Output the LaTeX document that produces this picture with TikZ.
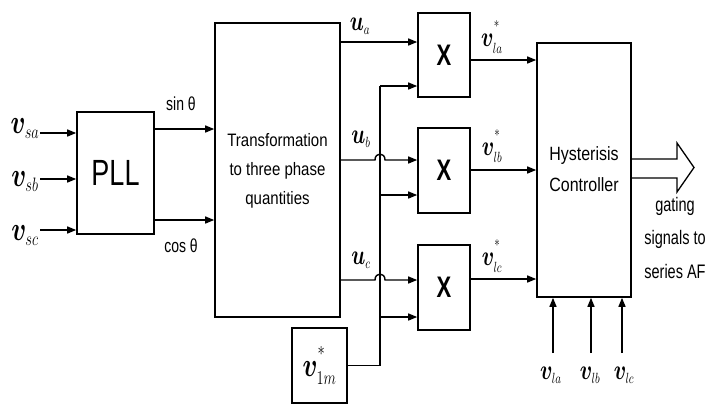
\documentclass[tikz,border=0pt]{standalone}
\usepackage{bm}
\usepackage{fontspec}
\setsansfont{Liberation Sans}
\usepackage{graphicx}
\usetikzlibrary{arrows.meta}
\newcommand{\st}[1]{\scalebox{1}[1.35]{#1}}
\newcommand{\stt}[1]{\scalebox{1}[1.2]{#1}}
\newcommand{\rstar}[1]{\raise#1\hbox{$\scriptscriptstyle *$}}
\begin{document}
\begin{tikzpicture}[x=1pt,y=-1pt,
  box/.style={draw,line width=1.6pt,inner sep=0pt,font=\sffamily},
  wire/.style={line width=1.4pt},
  arr/.style={wire,-{Triangle[length=9pt,width=7pt]}},
  bigv/.style={inner sep=0pt,font=\fontsize{27}{27}\selectfont},
  vl/.style={inner sep=0pt,font=\fontsize{22}{22}\selectfont},
  sl/.style={inner sep=0pt,font=\sffamily\fontsize{14}{16}\selectfont}]
\useasboundingbox (0,0) rectangle (710,405);
% boxes
\node[box,minimum width=77pt,minimum height=122pt] (pll) at (115.5,173) {\fontsize{27}{27}\selectfont\st{PLL}};
\node[box,minimum width=125pt,minimum height=294pt,align=center] (tr) at (277.5,170)
  {\fontsize{15}{24}\selectfont\stt{\begin{tabular}{@{}c@{}}Transformation\\to three phase\\quantities\end{tabular}}};
\node[box,minimum width=52pt,minimum height=84pt] (x1) at (444,55) {\fontsize{22}{22}\selectfont\bfseries\st{X}};
\node[box,minimum width=52pt,minimum height=85pt] (x2) at (444,170.5) {\fontsize{22}{22}\selectfont\bfseries\st{X}};
\node[box,minimum width=52pt,minimum height=85pt] (x3) at (444,287.5) {\fontsize{22}{22}\selectfont\bfseries\st{X}};
\node[box,minimum width=55pt,minimum height=75pt] (vm) at (319.5,365.5) {\fontsize{30}{30}\selectfont\st{$\bm{v}_{\scriptscriptstyle 1m}^{\rstar{6pt}}$}};
\node[box,minimum width=94pt,minimum height=254pt] (hc) at (584,170)
  {\fontsize{16}{26}\selectfont\stt{\begin{tabular}{@{}c@{}}Hysterisis\\Controller\end{tabular}}};
% source inputs
\coordinate (sa) at (40,133);
\coordinate (sb) at (40,179);
\coordinate (sc) at (40,230);
\draw[arr] (sa) -- (sa -| pll.west);
\draw[arr] (sb) -- (sb -| pll.west);
\draw[arr] (sc) -- (sc -| pll.west);
\node[bigv] (lsa) at (25,129) {\st{$\bm{v}_{\scriptscriptstyle sa}$}};
\node[bigv] (lsb) at (25,182) {\st{$\bm{v}_{\scriptscriptstyle sb}$}};
\node[bigv] (lsc) at (25,236) {\st{$\bm{v}_{\scriptscriptstyle sc}$}};
% PLL outputs
\coordinate (sn) at (154,129);
\coordinate (cs) at (154,220);
\draw[arr] (pll.east |- sn) -- (sn -| tr.west);
\draw[arr] (pll.east |- cs) -- (cs -| tr.west);
\node[sl] (lsin) at (181,104) {\st{sin θ}};
\node[sl] (lcos) at (181,246) {\st{cos θ}};
% u signals
\coordinate (ua) at (340,42);
\coordinate (ub) at (340,160);
\coordinate (uc) at (340,280);
\draw[arr] (tr.east |- ua) -- (ua -| x1.west);
\draw[arr] (tr.east |- ub) -- (375,160) .. controls (375,152) and (385,152) .. (385,160) -- (ub -| x2.west);
\draw[arr] (tr.east |- uc) -- (375,280) .. controls (375,272) and (385,272) .. (385,280) -- (uc -| x3.west);
\node[vl] (lua) at (360,26) {\st{$\bm{u}_{\scriptscriptstyle a}$}};
\node[vl] (lub) at (361,139) {\st{$\bm{u}_{\scriptscriptstyle b}$}};
\node[vl] (luc) at (361,260) {\st{$\bm{u}_{\scriptscriptstyle c}$}};
% bus from v1m
\coordinate (b1) at (380,86);
\coordinate (b2) at (380,195);
\coordinate (b3) at (380,317);
\draw[wire] (vm.east) -| (b1);
\draw[arr] (b1) -- (b1 -| x1.west);
\draw[arr] (b2) -- (b2 -| x2.west);
\draw[arr] (b3) -- (b3 -| x3.west);
% outputs to controller
\coordinate (oa) at (470,60);
\coordinate (ob) at (470,170);
\coordinate (oc) at (470,279);
\draw[arr] (x1.east |- oa) -- (oa -| hc.west);
\draw[arr] (x2.east |- ob) -- (ob -| hc.west);
\draw[arr] (x3.east |- oc) -- (oc -| hc.west);
\node[vl] (loa) at (492,37) {\st{$\bm{v}_{\scriptscriptstyle la}^{\rstar{7pt}}$}};
\node[vl] (lob) at (492,146) {\st{$\bm{v}_{\scriptscriptstyle lb}^{\rstar{7pt}}$}};
\node[vl] (loc) at (492,256) {\st{$\bm{v}_{\scriptscriptstyle lc}^{\rstar{7pt}}$}};
% bottom measurements
\coordinate (la) at (553,353);
\coordinate (lb) at (591,353);
\coordinate (lc) at (622,353);
\draw[arr] (la) -- (la |- hc.south);
\draw[arr] (lb) -- (lb |- hc.south);
\draw[arr] (lc) -- (lc |- hc.south);
\node[vl] (lla) at (551,375) {\st{$\bm{v}_{\scriptscriptstyle la}$}};
\node[vl] (llb) at (590,375) {\st{$\bm{v}_{\scriptscriptstyle lb}$}};
\node[vl] (llc) at (624,375) {\st{$\bm{v}_{\scriptscriptstyle lc}$}};
% hollow output arrow
\draw[line width=1.3pt,line join=miter] (hc.east |- 0,159) -- (677,159) -- (677,143) -- (694,167.5)
  -- (677,192) -- (677,178) -- (hc.east |- 0,178);
\node[inner sep=0pt,align=center,font=\sffamily\fontsize{14.5}{25}\selectfont] (gt) at (675,238)
  {\st{\begin{tabular}{@{}c@{}}gating\\signals to\\series AF\end{tabular}}};
\end{tikzpicture}
\end{document}
